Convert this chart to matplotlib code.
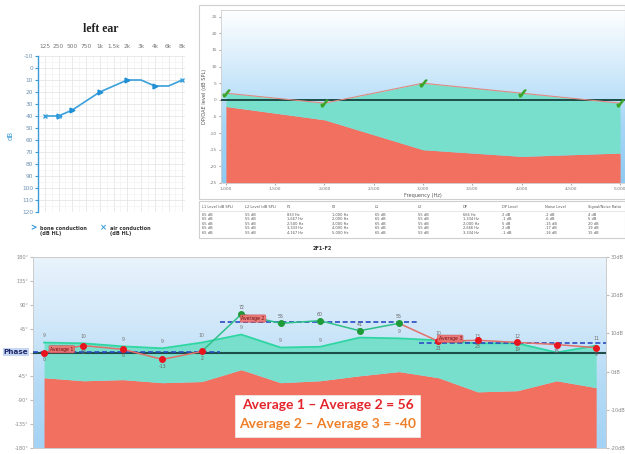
import numpy as np
import matplotlib
matplotlib.use("Agg")
from matplotlib import pyplot as plt
from matplotlib.colors import LinearSegmentedColormap

plt.rcParams['axes.unicode_minus'] = False

W, H = 625, 454

# ---- audiogram (left ear)
AUD_FREQS = ['125', '250', '500', '750', '1k', '1.5k', '2k', '3k', '4k', '6k', '8k']
AUD_YTICKS = list(range(-10, 121, 10))
trace_idx = [0, 1, 2, 4, 5, 6, 7, 8, 9, 10]
trace_db = [40, 40, 35, 20, 15, 10, 10, 15, 15, 10]
bone_idx = [1, 2, 4, 6, 8]
bone_db = [40, 35, 20, 10, 15]
air_idx = [0, 1, 10]
air_db = [40, 40, 10]

# ---- DP-gram
dp_freq = [1000, 2000, 3000, 4000, 5000]
dp_level = [2, -1, 5, 2, -1]
noise_level = [-2, -6, -15, -17, -16]
f1_freq = [833, 1667, 2500, 3333, 4167]
l1_level = [65, 65, 65, 65, 65]
l2_level = [55, 55, 55, 55, 55]
dpg_xticks = [1000, 1500, 2000, 2500, 3000, 3500, 4000, 4500, 5000]
dpg_yticks = [-25, -20, -15, -10, -5, 0, 5, 10, 15, 20, 25]
table_headers = ['L1 Level (dB SPL)', 'L2 Level (dB SPL)', 'F1', 'F2', 'L1', 'L2',
                 'DP', 'DP Level', 'Noise Level', 'Signal/Noise Ratio']

# ---- 2F1-F2 phase sweep
sweep_dp = [7.6, 7.4, 6.6, 6.1, 7.6, 9.7, 6.3, 6.5, 8.9, 8.7, 8.2, 7.4, 7.4, 5.0, 6.8]
sweep_noise = [-1.6, -2.4, -2.1, -2.9, -2.6, 0.5, -2.9, -2.4, -1.1, 0.0, -1.6, -5.3, -5.0, -2.4, -4.2]
sweep_phase = [0, 13, 6, -13, 2, 72, 55, 60, 41, 55, 21, 23, 19, 15, 9]
sweep_group = [1, 1, 1, 1, 1, 2, 2, 2, 2, 2, 3, 3, 3, 3, 3]
phase_ticks = [-180, -135, -90, -45, 0, 45, 90, 135, 180]
db_ticks = [-20, -10, 0, 10, 20, 30]
avg_note_1 = 'Average 1 \u2013 Average 2 = 56'
avg_note_2 = 'Average 2 \u2013 Average 3 = -40'

RED = '#f1705f'
TURQ = '#78dfcc'
ZERO = '#1d4e4a'


def px_rect(left, top, right, bottom):
    return [left / W, 1 - bottom / H, (right - left) / W, (bottom - top) / H]


def fx(x):
    return x / W


def fy(y):
    return 1 - y / H


def gradient_bg(ax, colors):
    cmap = LinearSegmentedColormap.from_list('bg', colors)
    grad = np.linspace(0, 1, 256).reshape(-1, 1)
    ax.imshow(grad, cmap=cmap, extent=[0, 1, 0, 1], transform=ax.transAxes,
              aspect='auto', origin='lower', zorder=0)


fig = plt.figure(figsize=(W / 100, H / 100), dpi=100)
fig.patch.set_facecolor('white')

# ================= audiogram
ax1 = fig.add_axes(px_rect(38, 56, 185, 212))
ax1.plot(trace_idx, trace_db, color='#3aa0dc', lw=1.2, zorder=3)
ax1.plot(bone_idx, bone_db, ls='none', marker='>', ms=3.5, color='#1f8fd6', zorder=4)
ax1.plot(air_idx, air_db, ls='none', marker='x', ms=3.5, mew=1, color='#3aa0dc', zorder=4)
ax1.set_xlim(-0.43, 10.2)
ax1.set_ylim(120, -10)
ax1.set_xticks(range(len(AUD_FREQS)))
ax1.set_xticklabels(AUD_FREQS)
ax1.set_xticks(np.arange(-0.5, 10.5, 1), minor=True)
ax1.set_yticks(AUD_YTICKS)
ax1.set_yticks(np.arange(-5, 120, 10), minor=True)
ax1.xaxis.tick_top()
ax1.tick_params(axis='x', which='both', length=0, labelsize=4.2, labelcolor='#777777', pad=5)
ax1.tick_params(axis='y', length=2, color='#3a9ad9', labelsize=4.2, labelcolor='#6d90b3', pad=1.5)
ax1.tick_params(axis='y', which='minor', length=0)
ax1.grid(True, which='major', color='#e2e2e2', lw=0.5)
ax1.grid(True, which='minor', color='#f0f0f0', lw=0.4)
for s in ['top', 'right', 'bottom']:
    ax1.spines[s].set_visible(False)
ax1.spines['left'].set_color('#3a9ad9')
ax1.spines['left'].set_linewidth(1.0)
fig.text(fx(101), fy(29), 'left ear', family='Liberation Serif', weight='bold',
         fontsize=8.5, ha='center', va='center', color='#222222')
fig.text(fx(11), fy(135), 'dB', rotation=90, fontsize=5, color='#3a9ad9',
         ha='center', va='center')
fig.text(fx(33), fy(228), '>', fontsize=5.5, weight='bold', color='#1f8fd6', ha='center', va='center')
fig.text(fx(40), fy(231), 'bone conduction\n(dB HL)', fontsize=3.6, weight='bold',
         color='#333333', ha='left', va='center', linespacing=1.2)
fig.text(fx(103), fy(228), '\u00d7', fontsize=6, weight='bold', color='#3aa0dc', ha='center', va='center')
fig.text(fx(110), fy(231), 'air conduction\n(dB HL)', fontsize=3.6, weight='bold',
         color='#333333', ha='left', va='center', linespacing=1.2)

# ================= DP-gram
frame = plt.Rectangle((fx(199), fy(199)), fx(625) - fx(199), fy(5) - fy(199),
                      transform=fig.transFigure, fill=False, ec='#cfcfcf', lw=0.8)
fig.add_artist(frame)
ax2 = fig.add_axes(px_rect(221, 10, 625, 183))
gradient_bg(ax2, ['#8fcaf3', '#a5d6f7', '#d4ebfb', '#ffffff'])
ax2.fill_between(dp_freq, noise_level, -25, color=RED, lw=0, zorder=2)
ax2.fill_between(dp_freq, dp_level, noise_level, color=TURQ, lw=0, zorder=2)
ax2.axhline(0, color=ZERO, lw=1.4, zorder=3)
ax2.plot(dp_freq, dp_level, color='#e08a80', lw=0.8, zorder=4)
ax2.plot(dp_freq, dp_level, ls='none', marker='$\\checkmark$', ms=5,
         color='#3ba52a', zorder=5)
ax2.set_xlim(950, 5050)
ax2.set_ylim(-25, 27)
ax2.set_xticks(dpg_xticks)
ax2.set_xticklabels([f'{v:,}' for v in dpg_xticks])
ax2.set_yticks(dpg_yticks)
ax2.tick_params(labelsize=3.2, labelcolor='#777777', length=1.5, color='#aaaaaa', pad=1.5)
for s in ax2.spines.values():
    s.set_color('#d0d0d0')
    s.set_linewidth(0.6)
ax2.set_xlabel('Frequency (Hz)', fontsize=3.6, color='#555555', labelpad=1)
ax2.set_ylabel('DP/OAE level (dB SPL)', fontsize=3.6, color='#555555', labelpad=2)

# table under the DP-gram
tab = plt.Rectangle((fx(199), fy(238)), fx(625) - fx(199), fy(201) - fy(238),
                    transform=fig.transFigure, fill=False, ec='#cfcfcf', lw=0.8)
fig.add_artist(tab)
col_x = [202, 245, 287, 332, 375, 418, 463, 502, 545, 588]
fig.add_artist(plt.Line2D([fx(199), fx(625)], [fy(211), fy(211)],
                          transform=fig.transFigure, color='#dddddd', lw=0.5))
for cx, head in zip(col_x, table_headers):
    fig.text(fx(cx), fy(207), head, fontsize=2.6, color='#555555', va='center')
for r in range(len(dp_freq)):
    dp_f = 2 * f1_freq[r] - dp_freq[r]
    snr = dp_level[r] - noise_level[r]
    row = [f'{l1_level[r]} dB', f'{l2_level[r]} dB', f'{f1_freq[r]:,} Hz',
           f'{dp_freq[r]:,} Hz', f'{l1_level[r]} dB', f'{l2_level[r]} dB',
           f'{dp_f:,} Hz', f'{dp_level[r]} dB', f'{noise_level[r]} dB', f'{snr} dB']
    for cx, cell in zip(col_x, row):
        fig.text(fx(cx), fy(215 + 4.4 * r), cell, fontsize=2.6, color='#555555', va='center')
fig.text(fx(322), fy(248), '2F1-F2', fontsize=3.6, weight='bold', color='#333333',
         ha='center', va='center')

# ================= 2F1-F2 phase sweep
ax3 = fig.add_axes(px_rect(33, 257, 606, 448))
gradient_bg(ax3, ['#a4d2f4', '#b4dbf6', '#d2e8f9', '#e9f3fc'])
idx = np.arange(len(sweep_dp))
ax3.fill_between(idx, sweep_noise, -20, color=RED, lw=0, zorder=2)
ax3.fill_between(idx, sweep_dp, sweep_noise, color=TURQ, lw=0, zorder=2)
ax3.plot(idx, sweep_dp, color='#2ed6a2', lw=1.3, zorder=3)
for i in idx:
    snr = round(sweep_dp[i] - sweep_noise[i])
    ax3.annotate(str(snr), (i, sweep_dp[i]), xytext=(0, 3), textcoords='offset points',
                 ha='center', va='bottom', fontsize=3.4, color='#777777', zorder=4)
ax3.set_xlim(-0.28, 14.25)
ax3.set_ylim(-20, 30)

ax4 = ax3.twinx()
ax3.yaxis.tick_right()
ax4.yaxis.tick_left()
ax4.set_ylim(-180, 180)
ax4.axhline(0, color=ZERO, lw=1.5, zorder=3)

# dashed averages for each phase group
for g, (x0, x1) in zip([1, 2, 3], [(-0.28, 4.47), (4.47, 9.5), (9.5, 14.25)]):
    vals = [p for p, gg in zip(sweep_phase, sweep_group) if gg == g]
    ax4.plot([x0, x1], [np.mean(vals)] * 2, color='#2a4cc4', lw=1.2,
             ls=(0, (3, 1.6)), zorder=4)

for i in range(len(sweep_phase) - 1):
    seg_col = '#2fc08a' if sweep_group[i + 1] == 2 else '#e2706a'
    ax4.plot([i, i + 1], sweep_phase[i:i + 2], color=seg_col, lw=1.1, zorder=5)
for i in idx:
    mcol = '#1f9a38' if sweep_group[i] == 2 else '#e8141e'
    ax4.plot(i, sweep_phase[i], 'o', ms=4, color=mcol, zorder=6)
    # phase values sit above the green dots, below the red ones
    off = 3 if sweep_group[i] == 2 else -3
    ax4.annotate(str(sweep_phase[i]), (i, sweep_phase[i]), xytext=(0, off),
                 textcoords='offset points', ha='center',
                 va='top' if off < 0 else 'bottom', fontsize=3.4, color='#666666', zorder=6)

tag_style = dict(boxstyle='round,pad=0.25', fc='#f07070', ec='#d04848', lw=0.4, alpha=0.9)
for label, x, y in [('Average 1', 0.45, 6), ('Average 2', 5.3, 64), ('Average 3', 10.3, 26)]:
    ax4.text(x, y, label, fontsize=3.3, color='#6a0e0e', ha='center', va='center',
             bbox=tag_style, zorder=7)

ax3.set_yticks(db_ticks)
ax3.set_yticklabels([f'{v}dB' for v in db_ticks])
ax4.set_yticks(phase_ticks)
ax4.set_yticklabels(['' if v == 0 else f'{v}\u00b0' for v in phase_ticks])
ax3.set_xticks([])
for a in (ax3, ax4):
    a.tick_params(labelsize=3.6, labelcolor='#888888', length=2, color='#bbbbbb', pad=1.5)
    for s in a.spines.values():
        s.set_color('#cccccc')
        s.set_linewidth(0.6)

fig.text(fx(16), fy(352), 'Phase', fontsize=5.2, weight='bold', color='#1c2a6e',
         ha='center', va='center',
         bbox=dict(boxstyle='square,pad=0.15', fc='#c8d6f2', ec='none'))

note_box = plt.Rectangle((0.3525, 0.058), 0.3225, 0.219, transform=ax3.transAxes,
                         fc='white', ec='#eeeeee', lw=0.5, zorder=8)
ax3.add_patch(note_box)
note_font = ['Lato', 'DejaVu Sans']
ax4.text(0.514, 0.225, avg_note_1, transform=ax3.transAxes, family=note_font,
         weight='bold', fontsize=10, color='#e3242b', ha='center', va='center', zorder=9)
ax4.text(0.514, 0.126, avg_note_2, transform=ax3.transAxes, family=note_font,
         weight='bold', fontsize=10, color='#ee7f28', ha='center', va='center', zorder=9)

fig.savefig('out.png', dpi=100)
